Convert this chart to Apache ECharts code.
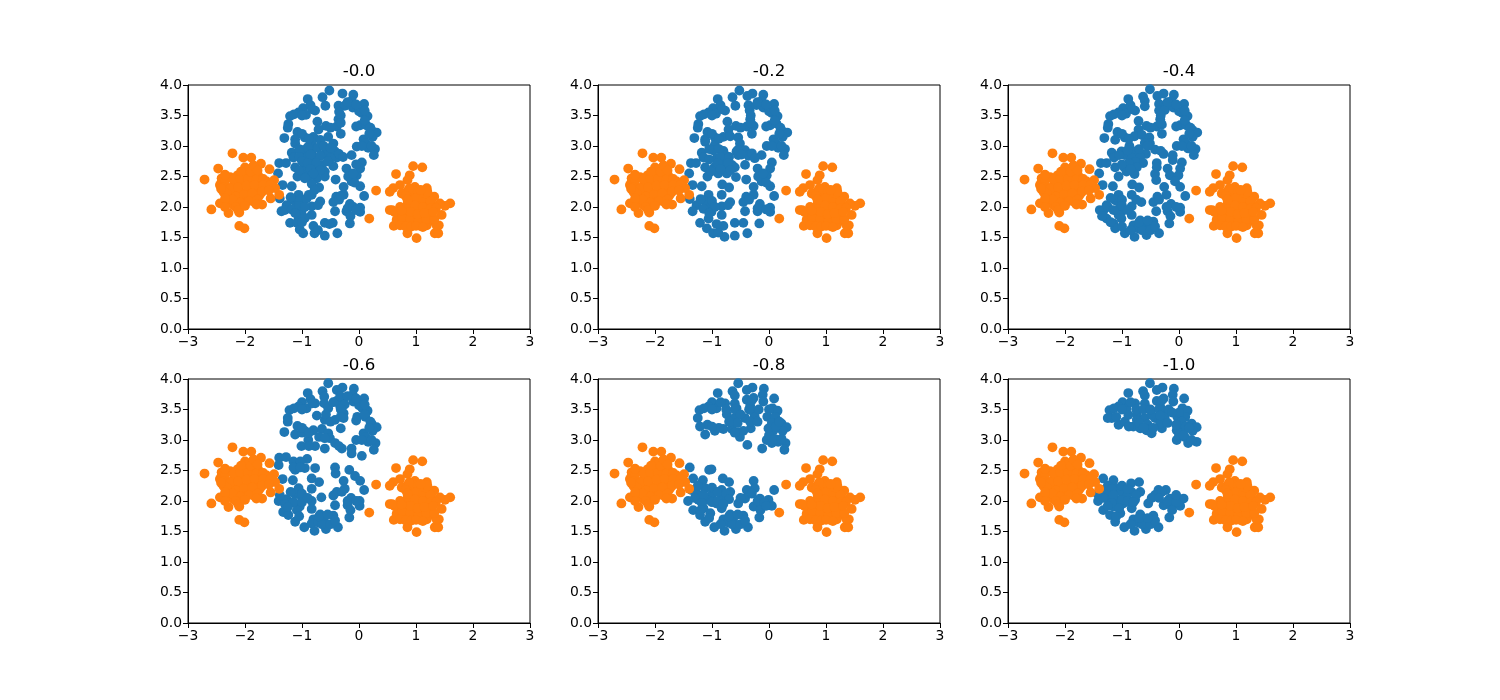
<!DOCTYPE html>
<html><head><meta charset="utf-8">
<style>html,body{margin:0;padding:0;background:#fff}#c{width:1500px;height:700px}</style>
<script src="https://cdn.jsdelivr.net/npm/echarts@6/dist/echarts.min.js"></script>
</head><body><div id="c"></div>
<script>
const panelTitles = ["-0.0","-0.2","-0.4","-0.6","-0.8","-1.0"];
const xTicks = [-3,-2,-1,0,1,2,3];
const yTicks = [0,0.5,1,1.5,2,2.5,3,3.5,4];

const orange = [[-2.71,2.45],[-2.47,2.63],[-2.22,2.88],[-2.03,2.81],[-1.89,2.81],[-1.72,2.71],[-1.57,2.62],[-2.59,1.96],[-2.10,1.69],[-2.01,1.65],[-2.44,2.06],[-2.29,1.90],[-2.10,1.91],[-1.70,2.04],[-1.55,2.14],[-1.49,2.44],[-1.40,2.20],[-1.47,2.31],
[-2.41,2.47],[-2.26,2.49],[-2.13,2.52],[-2.00,2.65],[-1.94,2.62],[-1.82,2.63],[-1.77,2.52],[-2.44,2.36],[-2.32,2.33],[-2.18,2.39],[-2.03,2.42],[-1.88,2.44],[-1.74,2.39],[-1.62,2.42],[-2.38,2.25],[-2.23,2.22],[-2.09,2.25],[-1.94,2.28],[-1.80,2.28],[-1.65,2.31],[-2.29,2.11],[-2.15,2.11],[-2.00,2.14],[-1.85,2.09],[-1.74,2.20],[-2.20,2.03],[-2.06,2.01],[-2.41,2.42],[-1.97,2.52],[-1.85,2.52],[-2.26,2.17],[-2.12,2.20],[-1.91,2.17],
[-2.35,2.42],[-2.20,2.45],[-2.08,2.47],[-1.95,2.46],[-1.80,2.45],[-1.68,2.46],[-2.38,2.32],[-2.25,2.30],[-2.12,2.32],[-1.97,2.35],[-1.83,2.36],[-1.68,2.36],[-1.55,2.36],[-2.32,2.22],[-2.16,2.17],[-2.02,2.20],[-1.87,2.22],[-1.70,2.25],[-1.58,2.27],[-2.22,2.12],[-2.08,2.07],[-1.93,2.10],[-1.78,2.12],[-2.35,2.14],[-2.42,2.30],[-1.90,2.58],[-1.85,2.68],[-1.78,2.60],[-2.07,2.58],[-2.35,2.53],[-2.16,2.00],[-2.12,1.95],[-2.35,2.00],[-2.00,2.02],[-1.80,2.04],
[0.65,2.54],[0.95,2.67],[1.11,2.65],[0.89,2.52],[0.85,2.44],[0.72,2.36],[0.60,2.31],[0.54,2.25],[0.30,2.27],[0.18,1.81],[0.54,1.95],[0.61,1.69],[0.85,1.57],[1.01,1.49],[1.33,1.57],[1.39,1.57],[1.40,1.70],[1.45,1.87],[1.60,2.06],[1.51,2.02],[1.42,2.06],[1.32,2.17],[1.19,2.31],[0.98,2.33],[0.84,2.25],[0.75,2.22],
[0.95,2.22],[1.07,2.20],[1.22,2.17],[0.89,2.11],[1.04,2.09],[1.19,2.06],[1.30,2.03],[0.78,1.98],[0.92,1.98],[1.07,1.95],[1.22,1.92],[0.69,1.90],[0.84,1.87],[0.98,1.84],[1.13,1.84],[1.27,1.84],[0.66,1.79],[0.81,1.76],[0.95,1.76],[1.10,1.73],[1.22,1.76],[0.72,1.70],[1.07,1.69],[1.19,1.70],[1.36,1.70],
[1.02,2.27],[0.88,2.30],[0.82,2.18],[1.00,2.15],[1.13,2.14],[1.25,2.10],[0.85,2.04],[0.98,2.03],[1.12,2.00],[1.26,1.98],[1.35,1.98],[0.72,2.00],[0.62,1.92],[0.76,1.84],[0.90,1.80],[1.04,1.78],[1.18,1.80],[1.32,1.80],[0.82,1.68],[0.92,1.68],[1.00,1.69],[1.16,2.22],[1.20,2.25],[0.90,1.92],[1.03,1.88],[1.15,1.90],[1.30,1.92],[0.75,1.94],[1.08,2.28],[0.85,2.12],[0.58,1.95],[1.12,1.67]];

const topRing = [[0.1,3.42],[0.2,3.3],[0.0,3.57],[0.1,3.58],[-0.2,3.72],[-0.05,3.68],[-1.14,3.52],[-1.0,3.5],[-0.85,3.67],[-0.82,3.6],[-0.5,3.3],[-0.32,3.5],[-0.32,3.38],[-1.0,3.2],[-0.88,3.12],[-1.25,3.3],[-0.05,3.32],[0.12,3.05],[0.22,3.0],[0.05,3.0],[0.18,3.2]];

const blue0 = [[-0.52,3.91],[-0.29,3.86],[-0.10,3.84],[-0.64,3.80],[-0.90,3.77],[-0.13,3.74],[0.09,3.69],[-0.59,3.66],[-0.36,3.66],[-0.25,3.66],[-0.11,3.63],[-0.98,3.62],[-0.77,3.58],[-0.35,3.56],[0.05,3.54],[0.15,3.49],[-1.06,3.55],[-1.21,3.49],[-0.93,3.51],[-0.73,3.40],[-0.36,3.44],[-1.24,3.36],[0.02,3.34],[0.13,3.34],[-0.58,3.33],[-0.39,3.32],[-0.71,3.27],[-1.08,3.23],[0.22,3.26],[0.31,3.22],[0.24,3.15],[-0.32,3.20],[-1.31,3.13],[-1.12,3.11],[-0.95,3.14],[-0.80,3.15],[-0.68,3.10],[-0.54,3.15],[0.08,3.11],[-0.45,3.04],[-1.12,3.04],[-0.83,3.04],[-0.04,2.99],[0.16,2.97],[0.28,2.95],[-1.18,2.89],[-0.98,2.93],[-0.83,2.91],[-0.57,2.91],[-0.42,2.91],[0.26,2.85],[-1.15,2.81],[-0.92,2.81],[-0.77,2.80],[-0.57,2.85],[-0.39,2.81],[-0.13,2.85],[0.05,2.73],[-1.40,2.72],[-1.28,2.72],[-1.12,2.65],[-0.96,2.69],[-0.83,2.72],[-0.65,2.69],[-0.45,2.67],[-0.22,2.63],[0.02,2.63],[-1.42,2.55],[-0.95,2.58],[-0.74,2.61],[-0.60,2.58],[-1.08,2.50],[-0.89,2.50],[-0.74,2.47],[-0.60,2.50],[-0.41,2.45],[-0.19,2.50],[-0.04,2.52],[-0.83,2.38],[-1.34,2.36],[-1.18,2.34],[-0.13,2.42],[0.02,2.34],[-0.27,2.33],[-0.70,2.32],[-0.83,2.20],[-1.06,2.20],[-0.40,2.17],[-0.27,2.20],[0.09,2.18],[-1.15,2.11],[-0.68,2.09],[-1.39,2.14],[-1.27,2.03],[-1.09,2.03],[-0.45,2.08],[-0.16,2.05],[-0.83,2.01],[-1.01,1.92],[0.02,1.99],[-1.36,1.93],[-0.83,1.87],[-0.42,1.93],[-0.22,1.93],[0.02,1.92],[-1.06,1.81],[-1.21,1.74],[-1.09,1.74],[-0.60,1.74],[-0.46,1.74],[-0.16,1.73],[-0.80,1.69],[-1.04,1.63],[-0.98,1.57],[-0.78,1.57],[-0.60,1.53],[-0.38,1.57],
[-1.05,2.95],[-0.90,2.98],[-0.72,2.97],[-0.62,3.00],[-0.50,2.97],[-0.35,2.87],[-0.28,2.82],[-1.05,2.82],[-0.85,2.86],[-0.68,2.84],[-0.50,2.80],[-1.00,2.75],[-0.90,2.72],[-0.75,2.72],[-0.55,2.75],[-1.05,2.60],[-0.85,2.62],[-0.68,2.60],[-0.80,2.55],[-0.95,2.47],[-0.08,2.40],[-0.05,2.70],[-0.10,2.55],[-1.20,2.16],[-1.03,2.12],[-0.92,2.14],[-1.30,1.95],[-1.18,1.96],[-1.05,2.02],[-0.95,2.00],[-0.72,2.03],[-1.12,1.90],[-0.95,1.82],[-1.00,1.75],[-0.35,2.12],[-0.20,1.98],[-0.10,2.00],[-0.15,1.85],[-0.52,1.72],[-0.72,1.62],[-0.88,2.20],[-0.78,2.28],[-0.05,1.95],[-0.32,2.18]];

const blue1 = [[-0.52,3.91],[-0.29,3.86],[-0.38,3.82],[-0.10,3.84],[-0.64,3.80],[-0.90,3.77],[-0.13,3.74],[0.09,3.69],[-0.59,3.66],[-0.36,3.67],[-0.34,3.58],[-0.22,3.67],[-0.10,3.63],[-0.98,3.62],[-0.77,3.58],[0.05,3.54],[0.15,3.49],[-1.06,3.55],[-1.21,3.49],[-0.93,3.53],[-0.73,3.40],[-0.33,3.44],[-1.24,3.36],[0.02,3.34],[0.13,3.37],[-0.58,3.33],[-0.39,3.32],[-0.27,3.33],[-0.71,3.27],[-1.08,3.23],[0.22,3.26],[0.32,3.22],[0.24,3.15],[-0.30,3.20],[-1.31,3.13],[-1.12,3.11],[-0.95,3.14],[-0.80,3.15],[-0.68,3.16],[-0.54,3.14],[0.08,3.11],[-0.51,3.04],[-1.12,3.07],[-0.95,3.02],[-0.04,3.00],[0.16,2.97],[0.28,2.95],[-1.18,2.89],[-0.98,2.93],[-0.80,2.92],[-0.57,2.91],[-0.42,2.93],[0.26,2.85],[-1.15,2.81],[-0.92,2.80],[-0.77,2.85],[-0.54,2.85],[-0.36,2.84],[-0.13,2.85],[0.05,2.73],[-1.37,2.72],[-1.28,2.72],[-1.12,2.65],[-0.96,2.65],[-0.83,2.72],[-0.65,2.69],[-0.42,2.69],[-0.20,2.63],[0.02,2.63],[-1.40,2.55],[-0.95,2.61],[-0.74,2.61],[-0.60,2.65],[-1.08,2.50],[-0.89,2.55],[-0.74,2.55],[-0.58,2.49],[-0.40,2.45],[-0.19,2.50],[-0.04,2.52],[-0.82,2.37],[-1.34,2.36],[-1.18,2.34],[-0.13,2.42],[0.02,2.34],[-0.27,2.33],[-0.70,2.32],[-0.83,2.20],[-1.06,2.20],[-0.40,2.17],[-0.27,2.20],[0.09,2.18],[-1.15,2.11],[-0.68,2.08],[-1.39,2.13],[-1.27,2.03],[-1.09,2.03],[-0.45,2.08],[-0.16,2.05],[-0.83,2.01],[-1.01,1.92],[0.02,1.99],[-1.34,1.93],[-0.83,1.87],[-0.42,1.93],[-0.20,1.93],[0.02,1.92],[-1.06,1.81],[-1.21,1.74],[-1.09,1.65],[-0.60,1.74],[-0.45,1.74],[-0.17,1.73],[-0.80,1.69],[-0.98,1.57],[-0.78,1.51],[-0.60,1.53],[-0.38,1.57],[-0.89,1.58],
[-1.05,2.95],[-0.88,2.95],[-0.85,2.82],[-0.70,2.82],[-1.05,2.78],[-0.90,2.72],[-0.72,2.72],[-0.55,2.93],[-0.48,2.86],[-0.30,2.88],[-0.25,2.80],[-1.02,2.58],[-0.85,2.62],[-0.68,2.60],[-0.05,2.40],[-0.10,2.55],[-1.20,2.13],[-1.00,2.10],[-1.15,1.97],[-0.95,2.00],[-0.72,2.03],[-1.05,1.90],[-0.92,1.72],[-0.35,2.12],[-0.20,1.98],[-0.05,1.96]];

const blue2 = [[-0.51,3.93],[-0.27,3.86],[-0.38,3.82],[-0.09,3.84],[-0.63,3.81],[-0.89,3.77],[-0.13,3.74],[0.09,3.69],[-0.60,3.74],[-0.60,3.65],[-0.35,3.69],[-0.35,3.58],[-0.22,3.66],[-0.25,3.59],[-0.10,3.63],[-0.98,3.62],[-0.77,3.58],[0.06,3.54],[0.15,3.49],[-1.06,3.55],[-1.21,3.49],[-0.93,3.53],[-0.71,3.41],[-0.33,3.44],[-1.24,3.36],[0.02,3.34],[0.13,3.34],[-0.57,3.33],[-0.39,3.32],[-0.30,3.35],[-0.71,3.27],[-1.08,3.23],[0.24,3.26],[0.32,3.22],[0.24,3.15],[-0.30,3.20],[-1.31,3.13],[-1.12,3.10],[-0.95,3.14],[-0.78,3.16],[-0.65,3.18],[-0.52,3.14],[0.08,3.11],[-0.51,3.04],[-0.87,3.00],[-1.01,2.91],[-0.04,3.00],[0.16,2.96],[0.29,2.95],[-1.18,2.89],[-0.95,2.85],[-0.77,2.91],[-0.58,2.87],[-0.42,2.94],[-0.27,2.87],[0.26,2.85],[-1.14,2.81],[-0.83,2.80],[-0.68,2.82],[-0.63,2.72],[-0.11,2.85],[-0.11,2.77],[0.05,2.73],[-1.37,2.72],[-1.27,2.72],[-1.12,2.65],[-0.96,2.65],[-0.77,2.74],[-0.92,2.58],[-0.74,2.65],[-0.39,2.72],[-0.39,2.65],[-0.20,2.63],[0.02,2.63],[-1.40,2.55],[-1.06,2.50],[-0.78,2.54],[-0.42,2.54],[-0.40,2.44],[-0.16,2.52],[-0.01,2.52],[-0.82,2.37],[-1.34,2.36],[-1.16,2.34],[-0.07,2.42],[0.02,2.33],[-0.26,2.33],[-0.70,2.32],[-0.83,2.20],[-1.06,2.20],[-0.38,2.17],[-0.22,2.20],[0.11,2.18],[-1.12,2.11],[-0.66,2.08],[-1.39,1.95],[-1.27,2.03],[-1.03,2.03],[-0.45,2.08],[-0.14,2.05],[-0.83,2.01],[-1.01,1.92],[0.02,1.99],[-1.33,1.93],[-0.83,1.87],[-0.40,1.93],[-0.20,1.93],[0.02,1.92],[-1.06,1.87],[-1.27,1.81],[-1.15,1.73],[-0.68,1.78],[-0.45,1.76],[-0.17,1.73],[-0.80,1.70],[-0.62,1.70],[-0.51,1.68],[-0.95,1.57],[-0.78,1.51],[-0.57,1.54],[-0.35,1.57],[-1.12,1.65],[-1.01,1.81],
[-0.90,2.93],[-1.05,2.85],[-0.70,2.95],[-0.88,2.72],[-1.00,2.70],[-0.85,2.62],[-0.60,3.05],[-0.55,3.00],[-0.32,2.92],[-1.20,2.15],[-1.00,2.12],[-0.75,2.12],[-1.35,1.85],[-1.25,2.00],[-1.15,1.95],[-1.00,2.02],[-0.90,1.95],[-1.20,1.75],[-0.72,1.65],[-0.65,1.62],[-0.50,1.62],[-0.42,1.68],[-0.85,1.62],[-1.00,1.68],[-0.70,1.75],[-0.55,1.78],[-0.22,2.00],[-0.05,2.00],[-0.15,1.85],[-0.35,2.12]];

const blue3 = [[-0.54,3.93],[-0.29,3.86],[-0.39,3.82],[-0.09,3.84],[-0.64,3.80],[-0.90,3.77],[-0.11,3.74],[0.09,3.68],[-0.61,3.71],[-0.61,3.60],[-0.39,3.64],[-0.27,3.68],[-0.33,3.55],[-0.54,3.52],[-0.10,3.63],[-1.00,3.62],[-0.77,3.60],[0.06,3.52],[0.15,3.48],[-1.06,3.55],[-1.22,3.49],[-0.92,3.52],[-0.74,3.40],[-0.27,3.44],[-1.25,3.36],[-0.03,3.38],[0.11,3.38],[-0.60,3.33],[-0.42,3.33],[-0.27,3.36],[-0.80,3.16],[-1.08,3.23],[0.22,3.27],[0.31,3.21],[0.24,3.15],[-0.32,3.19],[-1.31,3.13],[-1.12,3.09],[-0.95,3.15],[-0.65,3.18],[-0.54,3.11],[0.08,3.11],[-0.51,3.03],[-0.89,3.00],[-1.01,2.90],[-0.05,3.00],[0.16,2.97],[0.29,2.95],[-0.77,2.90],[-0.60,2.86],[-0.42,2.95],[-0.30,2.86],[0.26,2.84],[-0.13,2.86],[-0.13,2.78],[0.05,2.74],
[-1.40,2.71],[-1.28,2.72],[-0.91,2.69],[-1.15,2.65],[-1.03,2.65],[-1.12,2.51],[-0.95,2.54],[-0.77,2.54],[-0.42,2.55],[-0.41,2.45],[-0.17,2.51],[-0.83,2.37],[-1.34,2.36],[-1.16,2.34],[-0.07,2.41],[0.02,2.33],[-0.27,2.33],[-0.70,2.31],[-0.83,2.20],[-1.06,2.21],[-0.39,2.15],[-0.25,2.20],[0.09,2.18],[-1.12,2.11],[-0.66,2.06],[-1.41,2.00],[-1.27,2.03],[-1.00,2.04],[-0.45,2.09],[-0.14,2.05],[-0.83,2.00],[-1.04,1.91],[0.01,2.00],[-1.33,1.82],[-0.83,1.87],[-0.42,1.93],[-0.20,1.93],[0.01,1.92],[-1.09,1.85],[-1.24,1.77],[-1.12,1.66],[-0.68,1.78],[-0.45,1.76],[-0.17,1.73],[-0.80,1.70],[-0.62,1.70],[-0.96,1.57],[-0.78,1.51],[-0.58,1.54],[-0.37,1.57],[-0.83,1.63],[-1.41,2.59],[-1.39,2.10],[-1.21,1.96],[-1.09,2.15],
[-0.70,3.05],[-0.60,3.03],[-0.35,2.90],[-0.88,2.90],[-1.00,3.12],[-1.20,2.15],[-1.00,2.12],[-1.30,1.95],[-1.15,1.98],[-1.00,1.98],[-0.90,2.05],[-1.25,1.90],[-1.05,1.75],[-0.72,1.65],[-0.65,1.62],[-0.50,1.62],[-0.42,1.68],[-0.70,1.75],[-0.55,1.78],[-0.20,2.00],[-0.05,2.00],[-0.15,1.85],[-0.30,2.15],[-1.15,2.55],[-1.03,2.55],[-0.45,3.62],[-0.33,3.72],[-0.25,3.58],[-0.58,3.42]];

const blue4 = [[-0.54,3.93],[-0.29,3.86],[-0.39,3.82],[-0.09,3.84],[-0.64,3.80],[-0.90,3.77],[-0.11,3.74],[0.09,3.68],[-0.60,3.73],[-0.60,3.60],[-0.39,3.66],[-0.27,3.69],[-0.33,3.56],[-0.57,3.52],[-0.10,3.63],[-1.00,3.62],[-0.77,3.60],[0.06,3.52],[0.15,3.48],[-1.06,3.55],[-1.22,3.49],[-0.92,3.52],[-0.74,3.42],[-0.27,3.46],[-1.25,3.36],[-0.03,3.38],[0.11,3.38],[-0.60,3.36],[-0.42,3.36],[-0.25,3.38],[-0.80,3.18],[-1.08,3.25],[0.22,3.27],[0.31,3.21],[0.24,3.15],[-0.32,3.19],[-1.21,3.22],[-1.12,3.09],[-0.95,3.15],[-0.65,3.18],[-0.54,3.13],[0.08,3.16],[-0.51,3.05],[-0.04,3.00],[0.16,2.97],[0.29,2.95],[-0.38,2.92],[0.27,2.84],[-0.12,2.86],[0.05,2.95],[-0.01,3.19],
[-1.39,2.55],[-1.05,2.51],[-1.01,2.52],[-1.33,2.37],[-1.16,2.34],[-0.81,2.37],[-0.70,2.31],[-0.27,2.33],[0.09,2.18],[-0.39,2.18],[-0.25,2.21],[-1.12,2.21],[-0.83,2.18],[-0.68,2.15],[-1.36,2.18],[-1.27,2.13],[-1.01,2.10],[-0.83,2.07],[-1.42,2.00],[-1.24,2.02],[-1.09,2.02],[-0.92,1.96],[-0.54,1.96],[-0.42,2.04],[-0.16,2.04],[-0.01,2.02],[0.05,1.92],[-1.33,1.85],[-1.15,1.88],[-0.83,1.88],[-1.03,1.80],[-0.27,1.91],[-0.13,1.91],[-0.17,1.73],[-0.68,1.78],[-0.45,1.76],[-0.80,1.70],[-0.63,1.69],[-1.12,1.66],[-0.96,1.57],[-0.78,1.51],[-0.58,1.54],[-0.37,1.57],[-1.21,1.77],
[-1.14,3.52],[-1.00,3.50],[-0.85,3.62],[-0.75,3.50],[-0.60,3.50],[-0.50,3.42],[-0.35,3.50],[-0.30,3.65],[-0.18,3.50],[-0.33,3.30],[-0.20,3.30],[-0.55,3.28],[-0.70,3.30],[0.00,3.50],[0.05,3.28],[0.12,3.22],[0.18,3.30],[0.00,3.08],[0.10,3.02],[0.22,3.02],[-0.88,3.20],[-1.00,3.22],[-0.45,3.15],[-0.60,3.12],
[-1.25,2.25],[-1.00,2.22],[-0.90,2.15],[-1.15,2.10],[-1.30,2.05],[-1.18,1.97],[-1.00,1.98],[-0.90,2.00],[-0.75,2.12],[-0.70,2.03],[-0.80,1.95],[-1.20,1.85],[-1.05,1.72],[-0.72,1.65],[-0.65,1.62],[-0.50,1.62],[-0.42,1.68],[-0.85,1.62],[-0.70,1.75],[-0.55,1.78],[-0.20,2.00],[-0.08,1.97],[-0.15,1.85],[-0.30,2.12],[-0.50,2.05],[-0.05,1.92]];

const blue5 = [[-0.51,3.93],[-0.29,3.86],[-0.39,3.82],[-0.09,3.84],[-0.63,3.80],[-0.89,3.77],[-0.11,3.74],[0.09,3.68],[-0.60,3.73],[-0.60,3.60],[-0.39,3.64],[-0.27,3.68],[-0.33,3.55],[-0.57,3.52],[-0.10,3.63],[-0.99,3.62],[-0.77,3.60],[0.06,3.52],[0.15,3.48],[-1.06,3.55],[-1.22,3.49],[-0.92,3.52],[-0.74,3.42],[-0.25,3.46],[-1.25,3.36],[-0.03,3.38],[0.11,3.38],[-0.60,3.36],[-0.42,3.36],[-0.25,3.38],[-0.80,3.22],[-1.06,3.25],[0.22,3.27],[0.31,3.21],[0.24,3.15],[-0.30,3.19],[-1.18,3.36],[-0.95,3.30],[-0.68,3.19],[-0.48,3.11],[0.08,3.16],[-0.57,3.16],[-0.04,3.00],[0.16,2.95],[0.31,2.97],[-0.04,3.16],[-0.33,3.27],[-0.74,3.33],[-0.89,3.41],[-0.48,3.41],[0.02,3.27],
[-1.33,2.37],[-1.15,2.34],[-0.84,2.29],[-0.70,2.31],[-0.36,2.18],[-0.23,2.18],[-1.09,2.21],[-1.36,2.18],[-1.27,2.13],[-1.01,2.15],[-0.83,2.15],[-0.68,2.15],[-1.42,2.00],[-1.24,2.02],[-1.09,2.02],[-0.92,2.07],[-0.54,1.96],[-0.42,2.10],[-0.16,2.04],[0.08,2.04],[0.02,1.92],[-1.33,1.85],[-1.15,1.91],[-0.83,1.88],[-1.03,1.80],[-0.27,1.93],[-0.13,1.91],[-0.17,1.73],[-0.68,1.78],[-0.45,1.76],[-0.80,1.70],[-0.63,1.69],[-1.12,1.66],[-0.96,1.57],[-0.78,1.51],[-0.58,1.54],[-0.36,1.57],[-1.21,1.77],[-0.98,1.96],[-0.77,2.02],
[-1.14,3.52],[-1.00,3.50],[-0.85,3.62],[-0.75,3.50],[-0.62,3.50],[-0.50,3.50],[-0.35,3.50],[-0.30,3.65],[-0.18,3.50],[-0.33,3.40],[-0.20,3.28],[-0.55,3.25],[-0.70,3.28],[0.00,3.45],[0.05,3.30],[0.12,3.22],[0.18,3.20],[0.00,3.08],[0.10,3.05],[0.22,3.00],[-0.88,3.22],[-1.10,3.38],[-0.45,3.20],[-0.62,3.20],[-0.12,3.45],[-0.05,3.25],[0.08,3.08],
[-1.25,2.25],[-1.18,2.20],[-1.00,2.25],[-0.90,2.20],[-1.15,2.10],[-1.33,2.05],[-1.18,1.97],[-1.00,2.02],[-0.90,2.00],[-0.75,2.10],[-0.80,1.98],[-1.25,1.92],[-1.05,1.88],[-1.10,1.75],[-0.72,1.65],[-0.65,1.62],[-0.50,1.62],[-0.42,1.68],[-0.85,1.62],[-0.70,1.72],[-0.55,1.72],[-0.20,2.00],[-0.05,1.98],[-0.12,1.85],[-0.30,2.15],[-0.48,2.05],[-0.05,2.10],[-0.35,2.05],[-1.43,2.12]];

const bluePanels = [blue0.concat(topRing),blue1.concat(topRing),blue2.concat(topRing),blue3.concat(topRing),blue4,blue5];

const FONT = '"DejaVu Sans"';
const colLeft = [188,598,1008];
const rowTop = [85,379];
const W = 342, H = 244;
const grids=[], xAxes=[], yAxes=[], series=[], titles=[];
panelTitles.forEach((t,i)=>{
  const c=i%3, r=Math.floor(i/3);
  grids.push({left:colLeft[c],top:rowTop[r],width:W,height:H,show:true,borderColor:'#000',borderWidth:1,backgroundColor:'#fff'});
  xAxes.push({type:'value',gridIndex:i,min:xTicks[0],max:xTicks[xTicks.length-1],interval:1,
    axisLine:{show:true,onZero:false,lineStyle:{color:'#000',width:1}},
    axisTick:{show:true,length:5,lineStyle:{color:'#000',width:1}},
    splitLine:{show:false},
    axisLabel:{color:'#000',fontFamily:FONT,fontSize:13.9,margin:6,showMinLabel:true,showMaxLabel:true,hideOverlap:false,
      formatter:v=>String(v).replace('-','\u2212')}});
  yAxes.push({type:'value',gridIndex:i,min:yTicks[0],max:yTicks[yTicks.length-1],interval:0.5,
    axisLine:{show:true,onZero:false,lineStyle:{color:'#000',width:1}},
    axisTick:{show:true,length:5,lineStyle:{color:'#000',width:1}},
    splitLine:{show:false},
    axisLabel:{color:'#000',fontFamily:FONT,fontSize:13.9,margin:6,showMinLabel:true,showMaxLabel:true,hideOverlap:false,
      formatter:v=>v.toFixed(1)}});
  series.push({type:'scatter',xAxisIndex:i,yAxisIndex:i,data:bluePanels[i],symbolSize:9.8,itemStyle:{color:'#1f77b4',opacity:1},silent:true,z:2});
  series.push({type:'scatter',xAxisIndex:i,yAxisIndex:i,data:orange,symbolSize:9.8,itemStyle:{color:'#ff7f0e',opacity:1},silent:true,z:3});
  titles.push({text:t,left:colLeft[c]+W/2,top:rowTop[r]-22,textAlign:'center',
    textStyle:{color:'#000',fontFamily:FONT,fontSize:16.67,fontWeight:'normal'},padding:0});
});
const chart=echarts.init(document.getElementById('c'),null,{renderer:'canvas',width:1500,height:700});
chart.setOption({animation:false,backgroundColor:'#fff',title:titles,grid:grids,xAxis:xAxes,yAxis:yAxes,series});
</script></body></html>
